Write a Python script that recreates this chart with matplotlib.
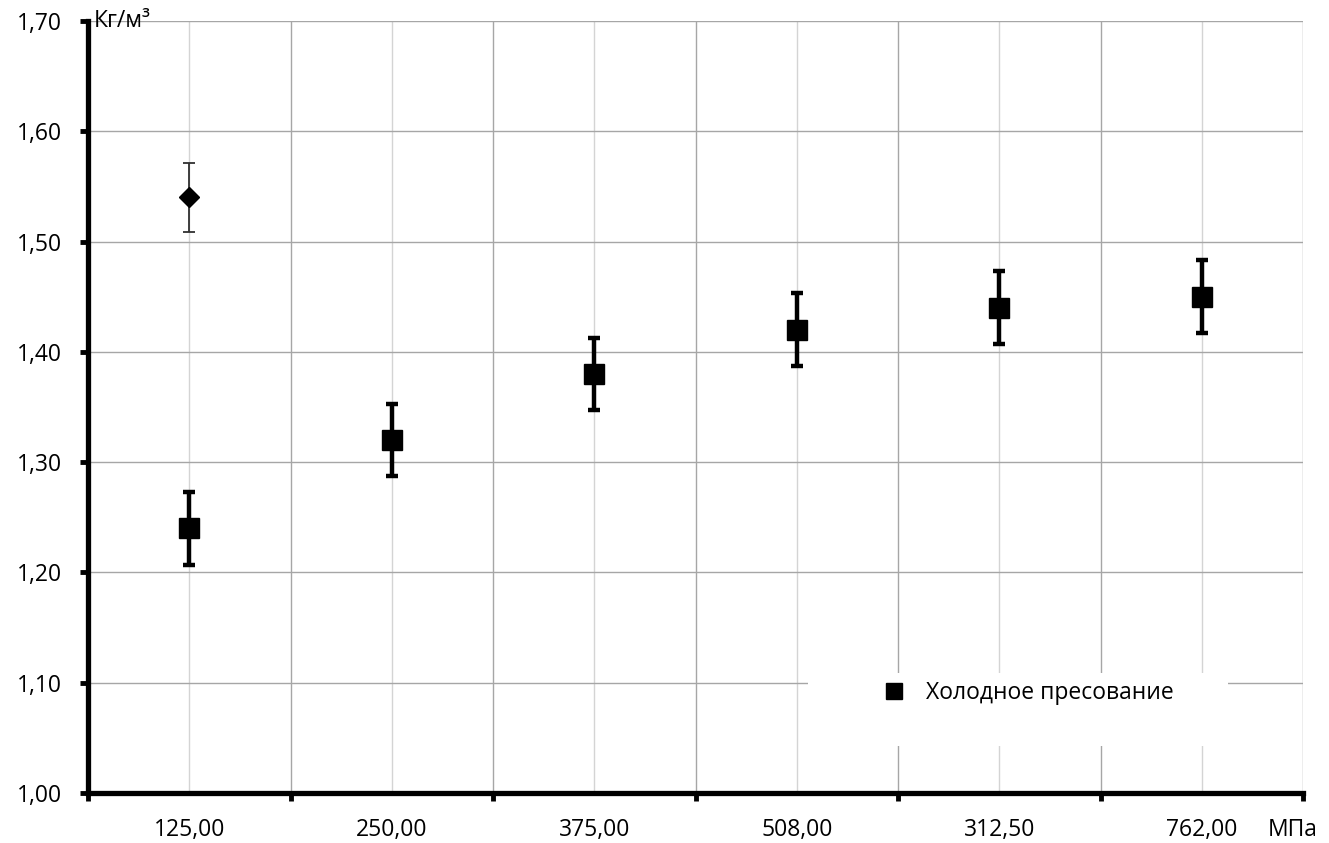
import numpy as np
import matplotlib.pyplot as plt
from matplotlib.patches import Rectangle
from matplotlib.lines import Line2D

plt.rcParams['font.family'] = ['Open Sans', 'DejaVu Sans']

# данные
pressure = ['125,00', '250,00', '375,00', '508,00', '312,50', '762,00']
density = [1.24, 1.32, 1.38, 1.42, 1.44, 1.45]
density_err = [0.033, 0.033, 0.033, 0.033, 0.033, 0.033]
single_cat = ['125,00']
single_val = [1.54]
single_err = [0.031]
series_name = 'Холодное пресование'
y_ticks = [1.00, 1.10, 1.20, 1.30, 1.40, 1.50, 1.60, 1.70]
y_unit = 'Кг/м³'
x_unit = 'МПа'

FS = 16.5

fig = plt.figure(figsize=(13.29, 8.43), dpi=100)
ax = fig.add_axes([88/1329, 50/843, 1215/1329, 772/843])

x = np.arange(len(pressure))
ax.errorbar(x, density, yerr=density_err, fmt='s', color='black', ms=14,
            elinewidth=3.2, capsize=4.5, capthick=3.2, zorder=4)
xs = [pressure.index(c) for c in single_cat]
ax.errorbar(xs, single_val, yerr=single_err, fmt='D', color='black', ms=10,
            ecolor='#303030', elinewidth=1.3, capsize=4.5, capthick=1.3, zorder=4)

ax.set_xlim(-0.5, len(pressure) - 0.5)
ax.set_ylim(y_ticks[0], y_ticks[-1])

# деления по границам категорий, подписи по центрам
ax.set_xticks(np.arange(-0.5, len(pressure), 1.0))
ax.set_xticklabels([])
ax.set_xticks(x, minor=True)
ax.set_xticklabels(pressure, minor=True)
ax.set_yticks(y_ticks)
ax.set_yticklabels([f'{v:.2f}'.replace('.', ',') for v in y_ticks])

ax.tick_params(axis='x', which='major', direction='out', length=6, width=3.5, color='black')
ax.tick_params(axis='x', which='minor', length=0, pad=18, labelsize=FS)
ax.tick_params(axis='y', direction='out', length=6, width=3.5, pad=13, labelsize=FS)

ax.set_axisbelow(True)
ax.grid(axis='y', color='#a6a6a6', lw=1.0)
ax.grid(axis='x', which='major', color='#a6a6a6', lw=1.0)
ax.grid(axis='x', which='minor', color='#d4d4d4', lw=1.0)

for s in ['top', 'right']:
    ax.spines[s].set_visible(False)
for s in ['left', 'bottom']:
    ax.spines[s].set_linewidth(3.8)
    ax.spines[s].set_zorder(5)

# белая подложка легенды, закрывает сетку
ax.add_patch(Rectangle((0.593, 0.061), 0.345, 0.094, transform=ax.transAxes,
                       facecolor='white', edgecolor='none', zorder=1))
handle = Line2D([], [], marker='s', color='black', ls='none', ms=12)
ax.legend([handle], [series_name], loc='center', bbox_to_anchor=(0.774, 0.130),
          frameon=False, fontsize=FS, handlelength=1.0, handletextpad=0.9)

ax.text(-0.47, y_ticks[-1], y_unit, va='center', ha='left', fontsize=FS, zorder=6)
fig.text(1268/1329, 13/843, x_unit, fontsize=FS, va='center', ha='left')

fig.savefig('out.png', dpi=100)
